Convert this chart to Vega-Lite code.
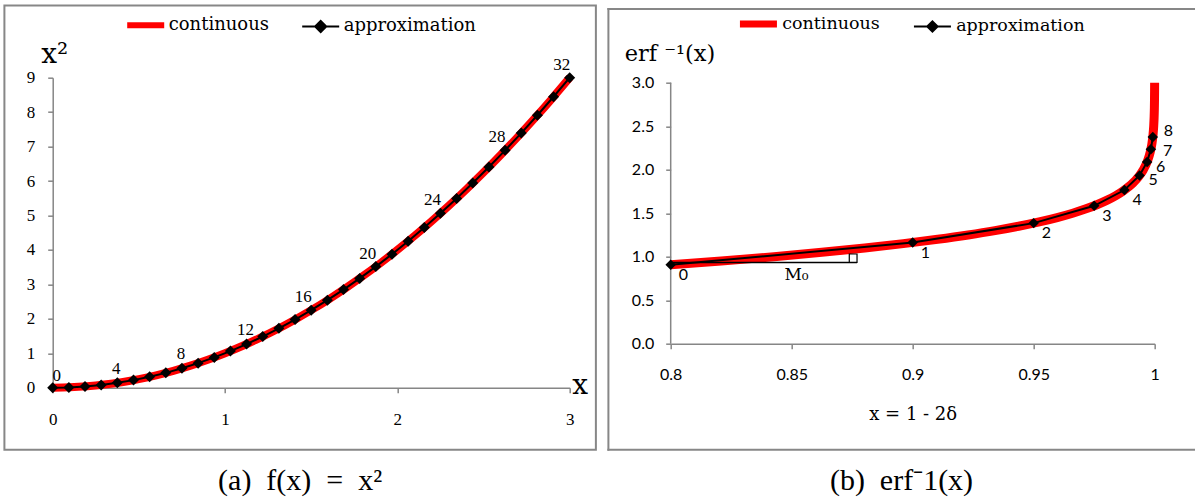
{
  "$schema": "https://vega.github.io/schema/vega-lite/v6.json",
  "padding": {"left": 2.7, "top": 3.7, "right": 0, "bottom": 0},
  "autosize": {"type": "pad"},
  "background": "white",
  "bounds": "flush",
  "spacing": 101,
  "config": {
    "font": "DejaVu Serif",
    "view": {"stroke": null},
    "axis": {"grid": false, "domainColor": "#868686", "tickColor": "#868686", "domainWidth": 1.5, "tickWidth": 1.5, "tickSize": 5, "labelColor": "black", "titleColor": "black", "titleFontWeight": "normal", "labelFlush": false, "labelOverlap": false}
  },
  "resolve": {"scale": {"color": "independent"}, "legend": {"color": "independent"}},
  "datasets": {
    "a_cont": [
      {"x": 0, "y": 0}, {"x": 0.1, "y": 0.01}, {"x": 0.2, "y": 0.04}, {"x": 0.3, "y": 0.09}, {"x": 0.4, "y": 0.16}, {"x": 0.5, "y": 0.25}, {"x": 0.6, "y": 0.36}, {"x": 0.7, "y": 0.49}, {"x": 0.8, "y": 0.64}, {"x": 0.9, "y": 0.81}, {"x": 1.0, "y": 1.0}, {"x": 1.1, "y": 1.21}, {"x": 1.2, "y": 1.44}, {"x": 1.3, "y": 1.69}, {"x": 1.4, "y": 1.96}, {"x": 1.5, "y": 2.25}, {"x": 1.6, "y": 2.56}, {"x": 1.7, "y": 2.89}, {"x": 1.8, "y": 3.24}, {"x": 1.9, "y": 3.61}, {"x": 2.0, "y": 4.0}, {"x": 2.1, "y": 4.41}, {"x": 2.2, "y": 4.84}, {"x": 2.3, "y": 5.29}, {"x": 2.4, "y": 5.76}, {"x": 2.5, "y": 6.25}, {"x": 2.6, "y": 6.76}, {"x": 2.7, "y": 7.29}, {"x": 2.8, "y": 7.84}, {"x": 2.9, "y": 8.41}, {"x": 3.0, "y": 9.0}
    ],
    "a_approx": [
      {"i": 0, "x": 0, "y": 0}, {"i": 1, "x": 0.09375, "y": 0.008789}, {"i": 2, "x": 0.1875, "y": 0.035156}, {"i": 3, "x": 0.28125, "y": 0.079102}, {"i": 4, "x": 0.375, "y": 0.140625}, {"i": 5, "x": 0.46875, "y": 0.219727}, {"i": 6, "x": 0.5625, "y": 0.316406}, {"i": 7, "x": 0.65625, "y": 0.430664}, {"i": 8, "x": 0.75, "y": 0.5625}, {"i": 9, "x": 0.84375, "y": 0.711914}, {"i": 10, "x": 0.9375, "y": 0.878906}, {"i": 11, "x": 1.03125, "y": 1.063477}, {"i": 12, "x": 1.125, "y": 1.265625}, {"i": 13, "x": 1.21875, "y": 1.485352}, {"i": 14, "x": 1.3125, "y": 1.722656}, {"i": 15, "x": 1.40625, "y": 1.977539}, {"i": 16, "x": 1.5, "y": 2.25}, {"i": 17, "x": 1.59375, "y": 2.540039}, {"i": 18, "x": 1.6875, "y": 2.847656}, {"i": 19, "x": 1.78125, "y": 3.172852}, {"i": 20, "x": 1.875, "y": 3.515625}, {"i": 21, "x": 1.96875, "y": 3.875977}, {"i": 22, "x": 2.0625, "y": 4.253906}, {"i": 23, "x": 2.15625, "y": 4.649414}, {"i": 24, "x": 2.25, "y": 5.0625}, {"i": 25, "x": 2.34375, "y": 5.493164}, {"i": 26, "x": 2.4375, "y": 5.941406}, {"i": 27, "x": 2.53125, "y": 6.407227}, {"i": 28, "x": 2.625, "y": 6.890625}, {"i": 29, "x": 2.71875, "y": 7.391602}, {"i": 30, "x": 2.8125, "y": 7.910156}, {"i": 31, "x": 2.90625, "y": 8.446289}, {"i": 32, "x": 3.0, "y": 9.0}
    ],
    "b_cont": [
      {"x": 0.8, "y": 0.9062}, {"x": 0.82089, "y": 0.95}, {"x": 0.8427, "y": 1.0}, {"x": 0.86244, "y": 1.05}, {"x": 0.88021, "y": 1.1}, {"x": 0.89612, "y": 1.15}, {"x": 0.91031, "y": 1.2}, {"x": 0.9229, "y": 1.25}, {"x": 0.93401, "y": 1.3}, {"x": 0.94376, "y": 1.35}, {"x": 0.95229, "y": 1.4}, {"x": 0.9597, "y": 1.45}, {"x": 0.96611, "y": 1.5}, {"x": 0.97162, "y": 1.55}, {"x": 0.97635, "y": 1.6}, {"x": 0.98038, "y": 1.65}, {"x": 0.98379, "y": 1.7}, {"x": 0.98667, "y": 1.75}, {"x": 0.98909, "y": 1.8}, {"x": 0.99111, "y": 1.85}, {"x": 0.99279, "y": 1.9}, {"x": 0.99418, "y": 1.95}, {"x": 0.99532, "y": 2.0}, {"x": 0.99702, "y": 2.1}, {"x": 0.99814, "y": 2.2}, {"x": 0.99886, "y": 2.3}, {"x": 0.99931, "y": 2.4}, {"x": 0.999593, "y": 2.5}, {"x": 0.999764, "y": 2.6}, {"x": 0.999866, "y": 2.7}, {"x": 0.999925, "y": 2.8}, {"x": 0.999959, "y": 2.9}, {"x": 0.999978, "y": 3.0}
    ],
    "b_approx": [
      {"i": 0, "x": 0.8, "y": 0.9062}, {"i": 1, "x": 0.9, "y": 1.1631}, {"i": 2, "x": 0.95, "y": 1.3859}, {"i": 3, "x": 0.975, "y": 1.5849}, {"i": 4, "x": 0.9875, "y": 1.766}, {"i": 5, "x": 0.99375, "y": 1.9334}, {"i": 6, "x": 0.996875, "y": 2.0895}, {"i": 7, "x": 0.9984375, "y": 2.2364}, {"i": 8, "x": 0.99921875, "y": 2.375}
    ]
  },
  "hconcat": [
    {
      "width": 517,
      "height": 310,
      "title": {"text": "(a)\u2002f(x)\u2002=\u2002x²", "orient": "bottom", "anchor": "middle", "frame": "bounds", "offset": 15, "font": "Liberation Serif", "fontSize": 30, "fontWeight": "normal", "color": "black"},
      "encoding": {
        "x": {"type": "quantitative", "scale": {"domain": [0, 3], "nice": false, "zero": false},
          "axis": {"values": [0, 1, 2, 3], "format": "d", "labelOverlap": false, "title": "x", "titleFont": "DejaVu Serif", "titleFontSize": 28, "titleX": 519, "titleY": 6, "titleAlign": "left", "titleBaseline": "alphabetic", "titleAngle": 0, "labelFont": "Liberation Serif", "labelFontSize": 17, "labelPadding": 19}},
        "y": {"type": "quantitative", "scale": {"domain": [0, 9], "nice": false, "zero": false},
          "axis": {"values": [0, 1, 2, 3, 4, 5, 6, 7, 8, 9], "format": "d", "labelOverlap": false, "title": "x²", "titleFont": "DejaVu Serif", "titleFontSize": 28, "titleX": -12, "titleY": -14.7, "titleAlign": "left", "titleBaseline": "alphabetic", "titleAngle": 0, "labelFont": "Liberation Serif", "labelFontSize": 17, "labelPadding": 13}}
      },
      "layer": [
        {
          "data": {"values": [{}]},
          "mark": {"type": "rect", "fill": "transparent", "stroke": "#878787", "strokeWidth": 2},
          "encoding": {
            "x": {"datum": -0.2803, "type": "quantitative"},
            "x2": {"datum": 3.152},
            "y": {"datum": 11.099, "type": "quantitative"},
            "y2": {"datum": -1.8}
          }
        },
        {
          "data": {"name": "a_cont"},
          "mark": {"type": "line", "strokeWidth": 8, "interpolate": "monotone"},
          "encoding": {
            "x": {"field": "x"},
            "y": {"field": "y"},
            "color": {"datum": "continuous", "type": "nominal",
              "scale": {"domain": ["continuous", "approximation"], "range": ["#ff0000", "#000000"]},
              "legend": {"orient": "none", "legendX": 84, "legendY": -61.5, "direction": "horizontal", "title": null, "padding": 0, "symbolSize": 1369, "labelFont": "DejaVu Serif", "labelFontSize": 18, "labelColor": "black", "labelOffset": 14, "columnPadding": 28,
                "encode": {"symbols": {"update": {
                  "shape": {"signal": "datum.value === 'continuous' ? 'M-1,0H1' : 'M-1,0H1M-0.3,0L0,-0.3L0.3,0L0,0.3Z'"},
                  "strokeWidth": {"signal": "datum.value === 'continuous' ? 6 : 2"},
                  "fill": {"signal": "datum.value === 'continuous' ? 'transparent' : 'black'"},
                  "opacity": {"value": 1}}}}}}
          }
        },
        {
          "data": {"name": "a_approx"},
          "mark": {"type": "line", "strokeWidth": 2},
          "encoding": {
            "x": {"field": "x"},
            "y": {"field": "y"},
            "color": {"datum": "approximation", "type": "nominal"}
          }
        },
        {
          "data": {"name": "a_approx"},
          "mark": {"type": "point", "shape": "diamond", "filled": true, "size": 121, "color": "black", "opacity": 1},
          "encoding": {"x": {"field": "x"}, "y": {"field": "y"}}
        },
        {
          "data": {"name": "a_approx"},
          "transform": [{"filter": "datum.i == 0"}],
          "mark": {"type": "text", "font": "Liberation Serif", "fontSize": 17, "align": "center", "baseline": "middle", "dx": 4, "dy": -12, "color": "black"},
          "encoding": {"x": {"field": "x"}, "y": {"field": "y"}, "text": {"field": "i", "type": "nominal"}}
        },
        {
          "data": {"name": "a_approx"},
          "transform": [{"filter": "datum.i % 4 == 0 && datum.i > 0 && datum.i <= 12"}],
          "mark": {"type": "text", "font": "Liberation Serif", "fontSize": 17, "align": "center", "baseline": "middle", "dx": -1, "dy": -14, "color": "black"},
          "encoding": {"x": {"field": "x"}, "y": {"field": "y"}, "text": {"field": "i", "type": "nominal"}}
        },
        {
          "data": {"name": "a_approx"},
          "transform": [{"filter": "datum.i % 4 == 0 && datum.i >= 16"}],
          "mark": {"type": "text", "font": "Liberation Serif", "fontSize": 17, "align": "center", "baseline": "middle", "dx": -8, "dy": -13, "color": "black"},
          "encoding": {"x": {"field": "x"}, "y": {"field": "y"}, "text": {"field": "i", "type": "nominal"}}
        }
      ]
    },
    {
      "width": 484,
      "height": 266,
      "title": {"text": "(b)\u2002erf⁻1(x)", "orient": "bottom", "anchor": "middle", "frame": "bounds", "offset": 15, "font": "Liberation Serif", "fontSize": 30, "fontWeight": "normal", "color": "black"},
      "encoding": {
        "x": {"type": "quantitative", "scale": {"domain": [0.8, 1], "nice": false, "zero": false},
          "axis": {"values": [0.8, 0.85, 0.9, 0.95, 1], "format": "~g", "labelOverlap": false, "title": "x = 1 - 2δ", "titleFont": "DejaVu Serif", "titleFontSize": 18, "titleX": 242, "titleY": 76, "titleAlign": "center", "titleBaseline": "alphabetic", "labelFont": "Lato", "labelFontSize": 16, "labelPadding": 18}},
        "y": {"type": "quantitative", "scale": {"domain": [0, 3.0575], "nice": false, "zero": false},
          "axis": {"values": [0, 0.5, 1, 1.5, 2, 2.5, 3], "format": ".1f", "labelOverlap": false, "domain": false, "title": "erf ⁻¹(x)", "titleFont": "DejaVu Serif", "titleFontSize": 22.5, "titleX": -46.5, "titleY": -17, "titleAlign": "left", "titleBaseline": "alphabetic", "titleAngle": 0, "labelFont": "Lato", "labelFontSize": 16, "labelPadding": 12}}
      },
      "layer": [
        {
          "data": {"values": [{}]},
          "mark": {"type": "rule", "stroke": "#878787", "strokeWidth": 2, "strokeCap": "square"},
          "encoding": {"x": {"datum": 0.77426, "type": "quantitative"}, "y": {"datum": -1.2184, "type": "quantitative"}, "y2": {"datum": 3.847}}
        },
        {
          "data": {"values": [{}]},
          "mark": {"type": "rule", "stroke": "#878787", "strokeWidth": 2, "strokeCap": "square"},
          "encoding": {"x": {"datum": 0.77426, "type": "quantitative"}, "x2": {"datum": 1.0165}, "y": {"datum": 3.847, "type": "quantitative"}}
        },
        {
          "data": {"values": [{}]},
          "mark": {"type": "rule", "stroke": "#878787", "strokeWidth": 2, "strokeCap": "square"},
          "encoding": {"x": {"datum": 0.77426, "type": "quantitative"}, "x2": {"datum": 1.0165}, "y": {"datum": -1.2184, "type": "quantitative"}}
        },
        {
          "data": {"values": [{}]},
          "mark": {"type": "rule", "stroke": "#868686", "strokeWidth": 1.5},
          "encoding": {"x": {"datum": 0.8, "type": "quantitative"}, "y": {"datum": 0, "type": "quantitative"}, "y2": {"datum": 3}}
        },
        {
          "data": {"name": "b_cont"},
          "mark": {"type": "line", "strokeWidth": 9, "interpolate": "monotone"},
          "encoding": {
            "x": {"field": "x"},
            "y": {"field": "y"},
            "color": {"datum": "continuous", "type": "nominal",
              "scale": {"domain": ["continuous", "approximation"], "range": ["#ff0000", "#000000"]},
              "legend": {"orient": "none", "legendX": 79, "legendY": -62.5, "direction": "horizontal", "title": null, "padding": 0, "symbolSize": 1369, "labelFont": "DejaVu Serif", "labelFontSize": 17.5, "labelColor": "black", "labelOffset": 15, "columnPadding": 29,
                "encode": {"symbols": {"update": {
                  "shape": {"signal": "datum.value === 'continuous' ? 'M-1,0H1' : 'M-1,0H1M-0.28,0L0,-0.28L0.28,0L0,0.28Z'"},
                  "strokeWidth": {"signal": "datum.value === 'continuous' ? 7 : 2"},
                  "fill": {"signal": "datum.value === 'continuous' ? 'transparent' : 'black'"},
                  "opacity": {"value": 1}}}}}}
          }
        },
        {
          "data": {"name": "b_approx"},
          "mark": {"type": "line", "strokeWidth": 2},
          "encoding": {"x": {"field": "x"}, "y": {"field": "y"}, "color": {"datum": "approximation", "type": "nominal"}}
        },
        {
          "data": {"name": "b_approx"},
          "mark": {"type": "point", "shape": "diamond", "filled": true, "size": 110, "color": "black", "opacity": 1},
          "encoding": {"x": {"field": "x"}, "y": {"field": "y"}}
        },
        {
          "data": {"values": [{}]},
          "mark": {"type": "rule", "stroke": "black", "strokeWidth": 1.5},
          "encoding": {"x": {"datum": 0.8, "type": "quantitative"}, "x2": {"datum": 0.877}, "y": {"datum": 0.934, "type": "quantitative"}}
        },
        {
          "data": {"values": [{}]},
          "mark": {"type": "rect", "fill": "white", "stroke": "black", "strokeWidth": 1.2},
          "encoding": {"x": {"datum": 0.8738, "type": "quantitative"}, "x2": {"datum": 0.877}, "y": {"datum": 0.934, "type": "quantitative"}, "y2": {"datum": 1.031}}
        },
        {
          "data": {"values": [{}]},
          "mark": {"type": "text", "font": "DejaVu Serif", "fontSize": 17, "align": "center", "baseline": "middle", "color": "black", "text": "M₀"},
          "encoding": {"x": {"datum": 0.852, "type": "quantitative"}, "y": {"datum": 0.793, "type": "quantitative"}}
        },
        {
          "data": {"name": "b_approx"},
          "transform": [{"filter": "datum.i <= 4"}],
          "mark": {"type": "text", "font": "Lato", "fontSize": 16, "align": "left", "baseline": "middle", "dx": 8, "dy": 10, "color": "black"},
          "encoding": {"x": {"field": "x"}, "y": {"field": "y"}, "text": {"field": "i", "type": "nominal"}}
        },
        {
          "data": {"name": "b_approx"},
          "transform": [{"filter": "datum.i == 5 || datum.i == 6"}],
          "mark": {"type": "text", "font": "Lato", "fontSize": 16, "align": "left", "baseline": "middle", "dx": 9, "dy": 5, "color": "black"},
          "encoding": {"x": {"field": "x"}, "y": {"field": "y"}, "text": {"field": "i", "type": "nominal"}}
        },
        {
          "data": {"name": "b_approx"},
          "transform": [{"filter": "datum.i == 7"}],
          "mark": {"type": "text", "font": "Lato", "fontSize": 16, "align": "left", "baseline": "middle", "dx": 12, "dy": 2, "color": "black"},
          "encoding": {"x": {"field": "x"}, "y": {"field": "y"}, "text": {"field": "i", "type": "nominal"}}
        },
        {
          "data": {"name": "b_approx"},
          "transform": [{"filter": "datum.i == 8"}],
          "mark": {"type": "text", "font": "Lato", "fontSize": 16, "align": "left", "baseline": "middle", "dx": 11, "dy": -6, "color": "black"},
          "encoding": {"x": {"field": "x"}, "y": {"field": "y"}, "text": {"field": "i", "type": "nominal"}}
        }
      ]
    }
  ]
}
